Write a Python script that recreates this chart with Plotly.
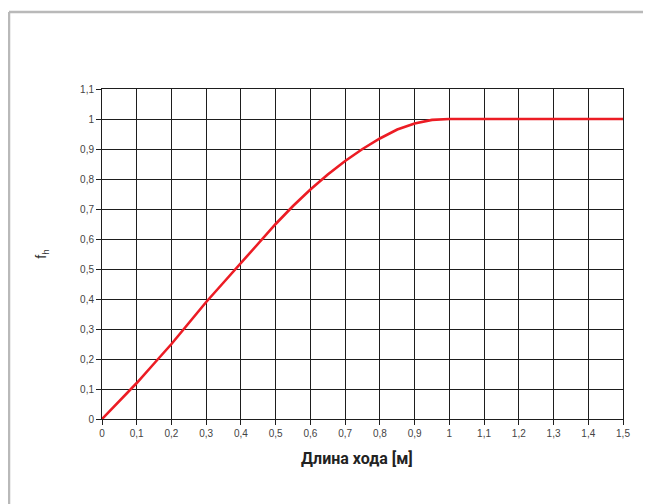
import plotly.graph_objects as go

# Data
stroke_m = [0.0, 0.05, 0.1, 0.15, 0.2, 0.25, 0.3, 0.35, 0.4, 0.45, 0.5, 0.55, 0.6,
            0.65, 0.7, 0.75, 0.8, 0.85, 0.9, 0.95, 1.0, 1.1, 1.2, 1.3, 1.4, 1.5]
fh = [0.0, 0.06, 0.12, 0.185, 0.25, 0.32, 0.39, 0.455, 0.52, 0.585, 0.65, 0.71, 0.765,
      0.815, 0.86, 0.90, 0.935, 0.965, 0.985, 0.997, 1.0, 1.0, 1.0, 1.0, 1.0, 1.0]

x_tickvals = [0, 0.1, 0.2, 0.3, 0.4, 0.5, 0.6, 0.7, 0.8, 0.9, 1.0, 1.1, 1.2, 1.3, 1.4, 1.5]
x_ticktext = ["0", "0,1", "0,2", "0,3", "0,4", "0,5", "0,6", "0,7", "0,8", "0,9",
              "1", "1,1", "1,2", "1,3", "1,4", "1,5"]
y_tickvals = [0, 0.1, 0.2, 0.3, 0.4, 0.5, 0.6, 0.7, 0.8, 0.9, 1.0, 1.1]
y_ticktext = ["0", "0,1", "0,2", "0,3", "0,4", "0,5", "0,6", "0,7", "0,8", "0,9", "1", "1,1"]

x_title = "Длина хода [м]"
y_title = "f<sub>h</sub>"

# page has an 8px body margin; figure coordinates = screen - 8
OFF = 8
W, H = 651, 504
ML = 102 - OFF
MT = 89 - OFF
MR = W - (623 - OFF)
MB = H - (419 - OFF)
pw, ph = W - ML - MR, H - MT - MB

def px_x(p):
    return (p - OFF - ML) / pw

def px_y(p):
    return (H - MB - (p - OFF)) / ph

fig = go.Figure()
fig.add_trace(go.Scatter(x=stroke_m, y=fh, mode="lines",
                         line=dict(color="#ec1c24", width=2.6),
                         hoverinfo="skip", showlegend=False))

grid = "#1e1e1e"
fig.update_xaxes(range=[0, 1.5], tickvals=x_tickvals, ticktext=x_ticktext,
                 showgrid=True, gridcolor=grid, gridwidth=1,
                 zeroline=False, showline=True, linecolor=grid, linewidth=1, mirror=True,
                 ticks="outside", ticklen=5, tickcolor=grid, tickwidth=1,
                 tickfont=dict(family="Liberation Sans, Arial", size=10, color="#444"))
fig.update_yaxes(range=[0, 1.1], tickvals=y_tickvals, ticktext=y_ticktext,
                 showgrid=True, gridcolor=grid, gridwidth=1,
                 zeroline=False, showline=True, linecolor=grid, linewidth=1, mirror=True,
                 ticks="outside", ticklen=5, tickcolor=grid, tickwidth=1,
                 tickfont=dict(family="Liberation Sans, Arial", size=10, color="#444"),
                 title=dict(text=y_title, standoff=30,
                            font=dict(family="Liberation Sans, Arial", size=14, color="#333")))

fig.add_annotation(text="<b>" + x_title + "</b>", xref="paper", yref="paper",
                   x=px_x(357), y=px_y(458), xanchor="center", yanchor="middle",
                   showarrow=False,
                   font=dict(family="Liberation Sans Narrow, Roboto, Arial", size=16, color="#222"))

# Gray frame (top and left edges)
frame = "#b9b9b9"
fig.add_shape(type="line", xref="paper", yref="paper",
              x0=px_x(9), y0=px_y(12), x1=px_x(670), y1=px_y(12),
              line=dict(color=frame, width=2.5))
fig.add_shape(type="line", xref="paper", yref="paper",
              x0=px_x(9), y0=px_y(12), x1=px_x(9), y1=px_y(530),
              line=dict(color=frame, width=2.5))

fig.update_layout(width=W, height=H, margin=dict(l=ML, r=MR, t=MT, b=MB),
                  paper_bgcolor="white", plot_bgcolor="white", showlegend=False)

fig.write_html("out.html")
